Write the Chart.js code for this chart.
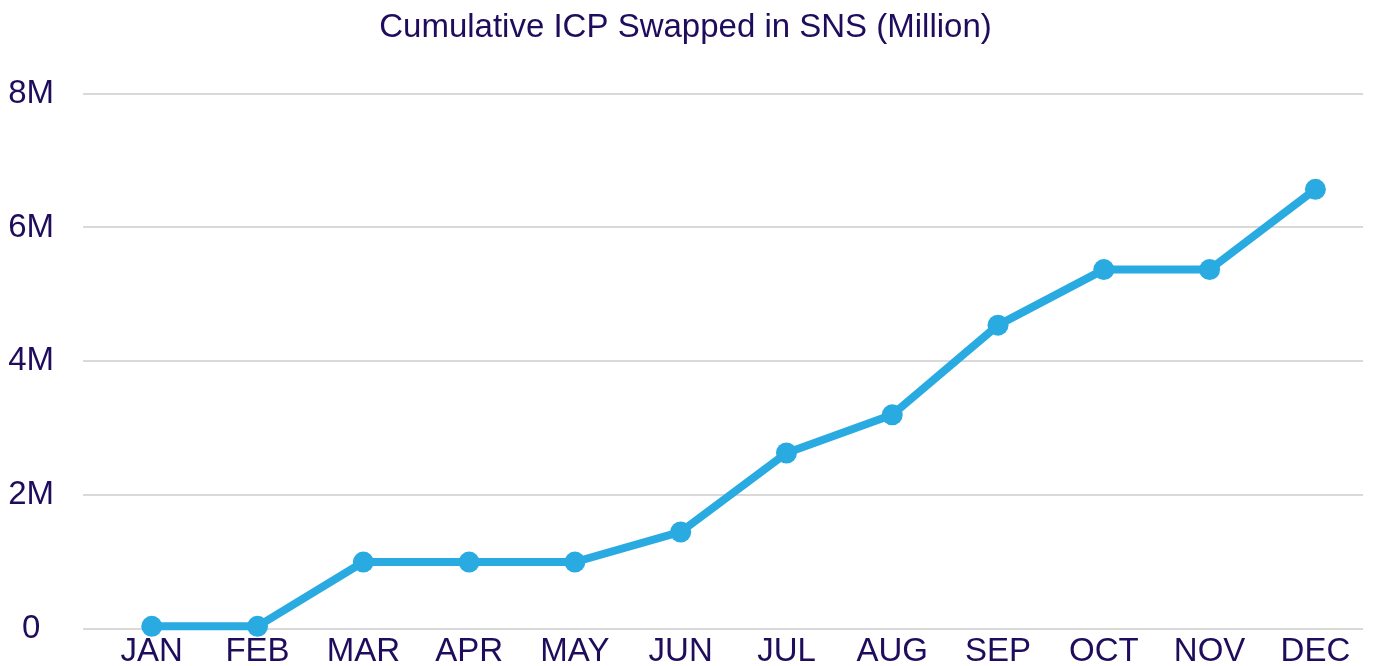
<!DOCTYPE html>
<html>
<head>
<meta charset="utf-8">
<script src="https://cdn.jsdelivr.net/npm/chart.js@4"></script>
<style>
  html,body{margin:0;padding:0;background:#fff;overflow:hidden;}
  canvas{display:block;}
</style>
</head>
<body>
<canvas id="c" width="1376" height="666"></canvas>
<script>
const months = ["JAN","FEB","MAR","APR","MAY","JUN","JUL","AUG","SEP","OCT","NOV","DEC"];
const swapped = [0.04, 0.04, 1.0, 1.0, 1.0, 1.45, 2.63, 3.2, 4.54, 5.37, 5.37, 6.57]; // millions ICP
const yTicks = [0, 2, 4, 6, 8];

const ink = "#1f0c5c";
const blue = "#29abe2";
const font = "'Liberation Sans', Arial, sans-serif";

new Chart(document.getElementById("c"), {
  type: "line",
  data: {
    datasets: [{
      data: swapped.map((v, i) => ({x: i, y: v * 1e6})),
      borderColor: blue,
      backgroundColor: blue,
      borderWidth: 8,
      pointRadius: 10.5,
      pointBorderWidth: 0,
      tension: 0,
      clip: false
    }]
  },
  options: {
    responsive: false,
    animation: false,
    layout: {padding: {left: 8, right: 13, top: 0, bottom: 0}},
    plugins: {
      legend: {display: false},
      tooltip: {enabled: false},
      title: {
        display: true,
        text: "Cumulative ICP Swapped in SNS (Million)",
        color: ink,
        font: {family: font, size: 33, weight: "normal"},
        padding: {top: 8, bottom: 46}
      }
    },
    scales: {
      x: {
        type: "linear",
        min: -0.65,
        max: 11.45,
        afterBuildTicks: axis => { axis.ticks = months.map((m, i) => ({value: i})); },
        afterFit: axis => { axis.height = 37; },
        ticks: {
          color: ink,
          font: {family: font, size: 33, lineHeight: 0.88},
          padding: 0,
          autoSkip: false,
          maxRotation: 0,
          callback: v => months[v] ?? ""
        },
        grid: {display: false},
        border: {display: false}
      },
      y: {
        min: 0,
        max: 8e6,
        afterBuildTicks: axis => { axis.ticks = yTicks.map(v => ({value: v * 1e6})); },
        // keep the label column narrow and stop tick padding from eating the bottom
        afterFit: axis => { axis.width = 75; axis.paddingTop = 0; axis.paddingBottom = 0; },
        ticks: {
          color: ink,
          font: {family: font, size: 33},
          padding: 29,
          crossAlign: "center",
          callback: v => v === 0 ? "0" : (v / 1e6) + "M"
        },
        grid: {color: "#d9d9d9", lineWidth: 2, drawTicks: false},
        border: {display: false}
      }
    }
  }
});
</script>
</body>
</html>
